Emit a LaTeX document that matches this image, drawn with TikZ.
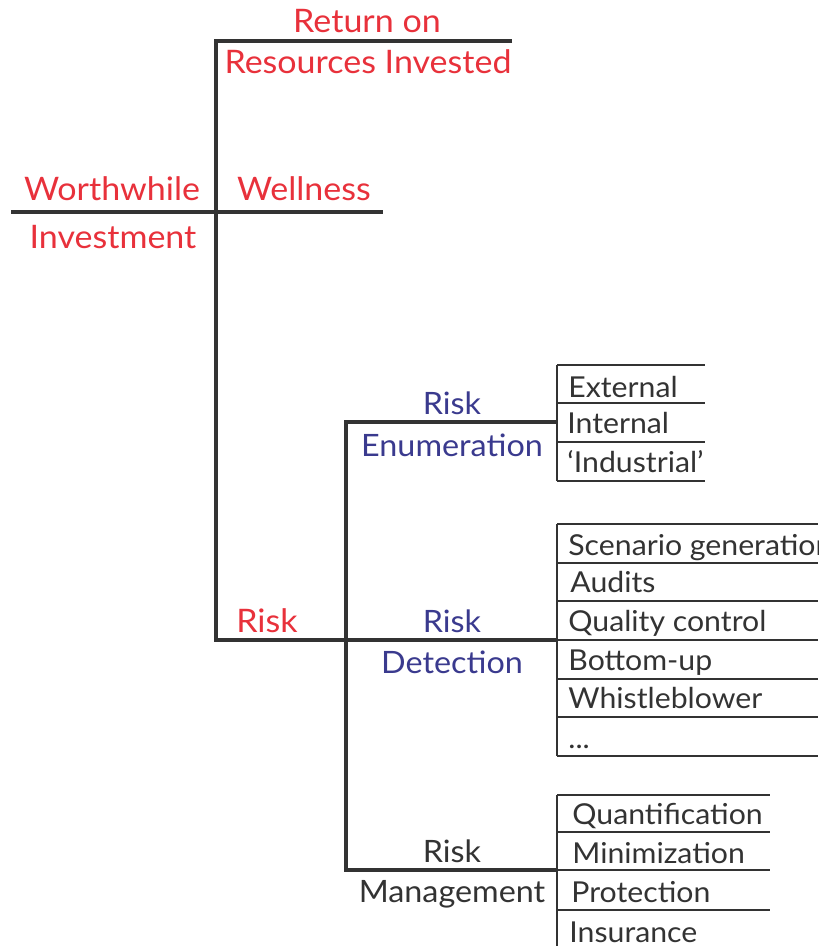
\documentclass[tikz,border=0pt]{standalone}
\usepackage{fontspec}
\setmainfont{Lato}[FakeStretch=1.05]
\definecolor{redtxt}{HTML}{E8313B}
\definecolor{bluetxt}{HTML}{3A3A8E}
\definecolor{ink}{HTML}{333333}
\begin{document}
\begin{tikzpicture}[x=0.5pt,y=-0.5pt,
  trunk/.style={draw=ink,line width=1.6pt},
  boxline/.style={draw=ink,line width=0.9pt},
  headred/.style={anchor=base,inner sep=0pt,text=redtxt,font=\fontsize{16.2}{19}\selectfont},
  headblue/.style={anchor=base,inner sep=0pt,text=bluetxt,font=\fontsize{15.4}{18}\selectfont},
  headgray/.style={anchor=base,inner sep=0pt,text=ink,font=\fontsize{15.4}{18}\selectfont},
  item/.style={anchor=base west,inner sep=0pt,text=ink,font=\fontsize{14.4}{17}\selectfont}]
\useasboundingbox (0,0) rectangle (818,946);

% --- junction points of the tree
\coordinate (top) at (216,41);
\coordinate (topend) at (512,41);
\coordinate (mid) at (216,212);
\coordinate (midL) at (11,212);
\coordinate (midR) at (383,212);
\coordinate (risk) at (216,640);
\coordinate (br) at (346,640);
\coordinate (brEnum) at (346,422);
\coordinate (brMgmt) at (346,870);
\coordinate (enumJ) at (557,422);
\coordinate (detJ) at (557,640);
\coordinate (mgmtJ) at (557,870);

% --- main trunk and branches
\draw[trunk] (topend) -- (top) -- (risk) -- (br) -- (detJ);
\draw[trunk] (midL) -- (mid) -- (midR);
\draw[trunk] (enumJ) -- (brEnum) -- (brMgmt) -- (mgmtJ);

% --- item lists (open on the right)
\coordinate (eT) at (557,365); \coordinate (eB) at (557,481);
\draw[boxline] (eT) -- (eB);
\foreach \yy in {365,403,442,481} \draw[boxline] (557,\yy) -- (705,\yy);

\coordinate (dT) at (557,524); \coordinate (dB) at (557,756);
\draw[boxline] (dT) -- (dB);
\foreach \yy in {524,563,601,640,679,717,756} \draw[boxline] (557,\yy) -- (818,\yy);

\coordinate (mT) at (557,795); \coordinate (mB) at (557,946);
\draw[boxline] (mT) -- (mB);
\foreach \yy in {795,832,870,910} \draw[boxline] (557,\yy) -- (770,\yy);

% --- headings
\node[headred] (ret1) at (367,33) {Return on};
\node[headred] (ret2) at (368,74) {Resources Invested};
\node[headred] (worth1) at (112,201) {Worthwhile};
\node[headred] (worth2) at (113,249) {Investment};
\node[headred] (well) at (304,201) {Wellness};
\node[headred] (riskR) at (267,632) {Risk};

\node[headblue] (en1) at (452,414) {Risk};
\node[headblue] (en2) at (452,456) {Enumeration};
\node[headblue] (de1) at (452,632) {Risk};
\node[headblue] (de2) at (452,673) {Detection};
\node[headgray] (ma1) at (452,862) {Risk};
\node[headgray] (ma2) at (452,902) {Management};

% --- list entries
\node[item] (i1) at (568,397) {External};
\node[item] (i2) at (567,433) {Internal};
\node[item] (i3) at (567,472) {`Industrial'};

\node[item] (d1) at (568,555) {Scenario generation};
\node[item] (d2) at (570,592) {Audits};
\node[item] (d3) at (568,631) {Quality control};
\node[item] (d4) at (568,670) {Bottom-up};
\node[item] (d5) at (568,708) {Whistleblower};
\node[item] (d6) at (568,748) {...};

\node[item] (m1) at (572,824) {Quantification};
\node[item] (m2) at (572,863) {Minimization};
\node[item] (m3) at (571,902) {Protection};
\node[item] (m4) at (569,942) {Insurance};
\end{tikzpicture}
\end{document}
